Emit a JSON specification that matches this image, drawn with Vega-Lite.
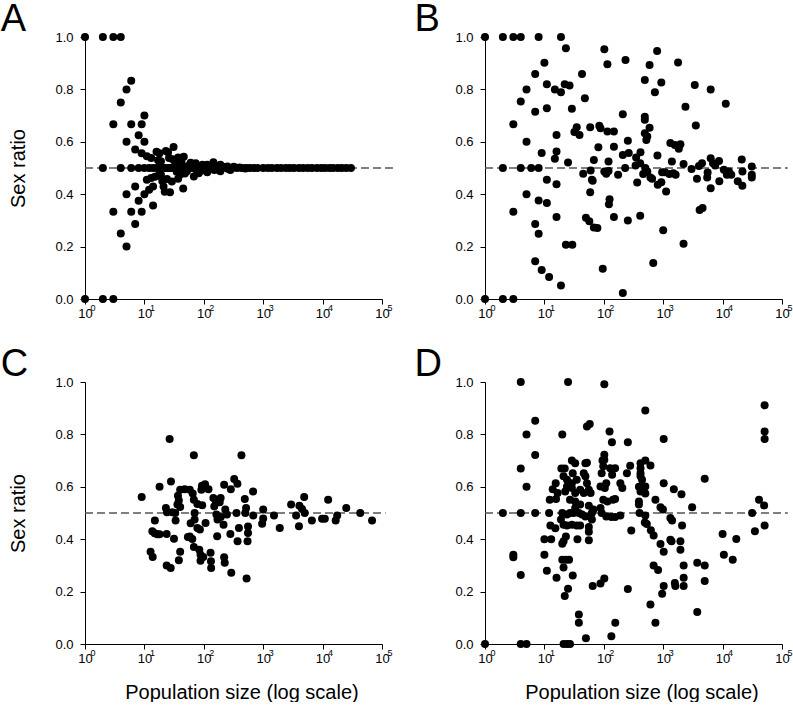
{
  "$schema": "https://vega.github.io/schema/vega-lite/v6.json",
  "padding": {"left": 0, "top": 0, "right": 0, "bottom": 0},
  "background": "white",
  "config": {
    "view": {"stroke": null},
    "font": "Liberation Sans",
    "axis": {
      "domainColor": "black", "tickColor": "black", "labelColor": "black", "titleColor": "black",
      "grid": false, "labelFont": "Liberation Sans", "titleFont": "Liberation Sans",
      "labelFontSize": 13, "titleFontSize": 20, "titleFontWeight": "normal",
      "tickSize": 5, "domainWidth": 1, "tickWidth": 1, "labelOverlap": false, "labelFlush": false, "labelBound": false
    },
    "title": {"font": "Liberation Sans", "fontSize": 38, "fontWeight": "normal", "color": "black", "anchor": "start", "frame": "group", "offset": -7.5}
  },
  "datasets": {
    "SUP": [{"n":1,"s":"0"},{"n":10,"s":"1"},{"n":100,"s":"2"},{"n":1000,"s":"3"},{"n":10000,"s":"4"},{"n":100000,"s":"5"}],
    "A": [
      {"n":1,"r":1},{"n":2,"r":1},{"n":3,"r":1},{"n":4,"r":1},{"n":1,"r":0},{"n":2,"r":0},{"n":3,"r":0},
      {"n":6,"r":0.833},{"n":5,"r":0.8},{"n":4,"r":0.75},{"n":3,"r":0.667},{"n":6,"r":0.667},{"n":9,"r":0.667},{"n":10,"r":0.7},{"n":8,"r":0.625},{"n":5,"r":0.6},{"n":10,"r":0.6},{"n":7,"r":0.571},{"n":9,"r":0.556},{"n":11,"r":0.545},{"n":13,"r":0.538},{"n":16,"r":0.5625},{"n":18,"r":0.556},{"n":23,"r":0.565},{"n":25,"r":0.56},{"n":31,"r":0.58},{"n":37,"r":0.54},{"n":46,"r":0.543},{"n":40,"r":0.525},{"n":60,"r":0.52},{"n":73,"r":0.518},{"n":95,"r":0.512},{"n":145,"r":0.522},{"n":114,"r":0.512},{"n":190,"r":0.512},{"n":250,"r":0.506},{"n":320,"r":0.505},
      {"n":7,"r":0.429},{"n":11,"r":0.455},{"n":13,"r":0.462},{"n":15,"r":0.467},{"n":10,"r":0.4},{"n":12,"r":0.417},{"n":14,"r":0.429},{"n":14,"r":0.357},{"n":21,"r":0.429},{"n":22,"r":0.409},{"n":27,"r":0.407},{"n":29,"r":0.448},{"n":24,"r":0.458},{"n":37,"r":0.459},{"n":45,"r":0.422},{"n":40,"r":0.475},{"n":68,"r":0.468},{"n":52,"r":0.488},{"n":82,"r":0.48},{"n":114,"r":0.484},{"n":190,"r":0.488},{"n":150,"r":0.492},{"n":280,"r":0.492},
      {"n":5,"r":0.4},{"n":8,"r":0.375},{"n":3,"r":0.333},{"n":6,"r":0.333},{"n":9,"r":0.333},{"n":7,"r":0.286},{"n":4,"r":0.25},{"n":5,"r":0.2},
      {"n":17,"r":0.53},{"n":19,"r":0.526},{"n":20,"r":0.45},{"n":26,"r":0.538},{"n":30,"r":0.533},{"n":33,"r":0.515},{"n":35,"r":0.486},{"n":42,"r":0.524},{"n":48,"r":0.479},{"n":55,"r":0.509},{"n":62,"r":0.516},{"n":75,"r":0.493},{"n":88,"r":0.489},{"n":105,"r":0.505},{"n":130,"r":0.508},{"n":170,"r":0.494},{"n":210,"r":0.505},{"n":260,"r":0.496},{"n":400,"r":0.502},{"n":500,"r":0.498},{"n":17,"r":0.47},{"n":19,"r":0.474},
      {"n":2,"r":0.5},{"n":4,"r":0.5},{"n":6,"r":0.5},{"n":8,"r":0.5},{"n":10,"r":0.5},{"n":12,"r":0.5},{"n":14,"r":0.5},{"n":16,"r":0.5},{"n":18,"r":0.5},{"n":20,"r":0.5},{"n":22,"r":0.5},{"n":24,"r":0.5},{"n":26,"r":0.5},{"n":28,"r":0.5},{"n":30,"r":0.5},{"n":32,"r":0.5},{"n":36,"r":0.5},{"n":40,"r":0.5},{"n":44,"r":0.5},{"n":50,"r":0.5},{"n":56,"r":0.5},{"n":64,"r":0.5},{"n":70,"r":0.5},{"n":80,"r":0.5},{"n":90,"r":0.5},{"n":100,"r":0.5},{"n":120,"r":0.5},{"n":140,"r":0.5},{"n":160,"r":0.5},{"n":200,"r":0.5},{"n":240,"r":0.5},{"n":300,"r":0.5},{"n":360,"r":0.5},{"n":440,"r":0.5},{"n":520,"r":0.5},{"n":600,"r":0.5},{"n":700,"r":0.5},{"n":800,"r":0.5},{"n":1000,"r":0.5},{"n":1200,"r":0.5},{"n":1400,"r":0.5},{"n":1700,"r":0.5},{"n":2000,"r":0.5},{"n":2400,"r":0.5},{"n":2800,"r":0.5},{"n":3300,"r":0.5},{"n":4000,"r":0.5},{"n":4700,"r":0.5},{"n":5600,"r":0.5},{"n":6600,"r":0.5},{"n":8000,"r":0.5},{"n":9500,"r":0.5},{"n":11000,"r":0.5},{"n":13000,"r":0.5},{"n":15000,"r":0.5},{"n":18000,"r":0.5},{"n":21000,"r":0.5},{"n":25000,"r":0.5},{"n":30000,"r":0.5}
    ],
    "B": [
      {"n":1,"r":1},{"n":2,"r":1},{"n":3,"r":1},{"n":4,"r":1},{"n":8,"r":1},{"n":19,"r":1},
      {"n":23,"r":0.957},{"n":102,"r":0.953},{"n":115,"r":0.896},{"n":10,"r":0.902},{"n":7,"r":0.859},{"n":43,"r":0.859},{"n":5,"r":0.8},{"n":11,"r":0.82},{"n":15,"r":0.8},{"n":19,"r":0.789},{"n":22,"r":0.82},{"n":26.5,"r":0.815},{"n":48,"r":0.766},{"n":4,"r":0.754},{"n":7,"r":0.715},{"n":11,"r":0.728},{"n":29,"r":0.726},{"n":209,"r":0.705},{"n":3,"r":0.667},{"n":35,"r":0.656},{"n":32,"r":0.637},{"n":39,"r":0.626},{"n":59,"r":0.656},{"n":84,"r":0.661},{"n":88,"r":0.652},{"n":115,"r":0.639},{"n":148,"r":0.639},{"n":16,"r":0.626},{"n":5,"r":0.6},{"n":254,"r":0.604},{"n":81,"r":0.579},{"n":148,"r":0.581},{"n":209,"r":0.55},{"n":263,"r":0.557},{"n":9,"r":0.557},{"n":16,"r":0.563},{"n":15,"r":0.535},{"n":25,"r":0.521},{"n":68,"r":0.531},{"n":120,"r":0.525},{"n":2,"r":0.5},{"n":4,"r":0.5},{"n":6,"r":0.5},{"n":8,"r":0.5},{"n":45,"r":0.478},{"n":60,"r":0.49},{"n":63,"r":0.455},{"n":65,"r":0.451},{"n":102,"r":0.487},{"n":110,"r":0.478},{"n":120,"r":0.489},{"n":174,"r":0.474},{"n":229,"r":0.5},{"n":11,"r":0.455},{"n":16,"r":0.438},{"n":59,"r":0.407},{"n":5,"r":0.4},{"n":8,"r":0.376},{"n":11,"r":0.366},{"n":125,"r":0.381},{"n":122,"r":0.362},{"n":3,"r":0.333},{"n":16,"r":0.313},{"n":148,"r":0.313},{"n":50,"r":0.31},{"n":57,"r":0.297},{"n":68,"r":0.273},{"n":78,"r":0.271},{"n":254,"r":0.3},{"n":7,"r":0.286},{"n":8,"r":0.249},{"n":23,"r":0.207},{"n":29.5,"r":0.207},{"n":7,"r":0.144},{"n":9,"r":0.111},{"n":12,"r":0.084},{"n":19,"r":0.052},{"n":96,"r":0.115},{"n":209,"r":0.023},{"n":1,"r":0},{"n":2,"r":0},{"n":3,"r":0},
      {"n":232,"r":0.912},{"n":790,"r":0.947},{"n":590,"r":0.893},{"n":1780,"r":0.903},{"n":490,"r":0.836},{"n":930,"r":0.826},{"n":725,"r":0.789},{"n":3400,"r":0.817},{"n":6300,"r":0.8},{"n":11300,"r":0.745},{"n":2370,"r":0.734},{"n":490,"r":0.696},{"n":490,"r":0.684},{"n":590,"r":0.654},{"n":490,"r":0.633},{"n":540,"r":0.62},{"n":520,"r":0.607},{"n":3540,"r":0.662},{"n":1320,"r":0.595},{"n":1570,"r":0.588},{"n":1950,"r":0.591},{"n":1830,"r":0.573},{"n":415,"r":0.56},{"n":350,"r":0.54},{"n":800,"r":0.548},{"n":410,"r":0.518},{"n":343,"r":0.51},{"n":1400,"r":0.525},{"n":2200,"r":0.515},{"n":500,"r":0.5},{"n":540,"r":0.487},{"n":610,"r":0.464},{"n":650,"r":0.459},{"n":460,"r":0.477},{"n":365,"r":0.445},{"n":810,"r":0.436},{"n":930,"r":0.446},{"n":1120,"r":0.41},{"n":960,"r":0.484},{"n":1070,"r":0.484},{"n":1270,"r":0.477},{"n":1480,"r":0.48},{"n":1620,"r":0.474},{"n":3000,"r":0.496},{"n":3700,"r":0.459},{"n":4000,"r":0.508},{"n":4500,"r":0.518},{"n":5500,"r":0.464},{"n":5600,"r":0.483},{"n":6300,"r":0.537},{"n":6300,"r":0.423},{"n":6900,"r":0.518},{"n":7500,"r":0.51},{"n":8700,"r":0.527},{"n":8800,"r":0.449},{"n":10500,"r":0.493},{"n":11800,"r":0.474},{"n":12800,"r":0.487},{"n":14000,"r":0.474},{"n":18000,"r":0.449},{"n":21000,"r":0.532},{"n":21600,"r":0.487},{"n":21500,"r":0.432},{"n":31000,"r":0.506},{"n":31000,"r":0.474},{"n":31000,"r":0.464},{"n":4600,"r":0.347},{"n":4100,"r":0.34},{"n":410,"r":0.318},{"n":1000,"r":0.262},{"n":2200,"r":0.211},{"n":680,"r":0.137}
    ],
    "C": [
      {"n":9,"r":0.561},{"n":26.6,"r":0.782},{"n":68,"r":0.72},{"n":430,"r":0.72},{"n":18,"r":0.6},{"n":28,"r":0.62},{"n":40,"r":0.589},{"n":47.6,"r":0.591},{"n":58,"r":0.589},{"n":65,"r":0.574},{"n":36.7,"r":0.566},{"n":38,"r":0.548},{"n":36,"r":0.532},{"n":40,"r":0.523},{"n":23,"r":0.519},{"n":24,"r":0.503},{"n":29.5,"r":0.503},{"n":15,"r":0.471},{"n":33.5,"r":0.471},{"n":13.6,"r":0.43},{"n":14.9,"r":0.423},{"n":16.5,"r":0.419},{"n":18,"r":0.419},{"n":23.7,"r":0.42},{"n":31.5,"r":0.402},{"n":12.7,"r":0.352},{"n":13.8,"r":0.332},{"n":23.7,"r":0.3},{"n":27.7,"r":0.29},{"n":40,"r":0.352},{"n":38,"r":0.32},{"n":54,"r":0.408},{"n":64,"r":0.401},{"n":68,"r":0.551},{"n":78,"r":0.534},{"n":70,"r":0.5},{"n":70,"r":0.475},{"n":78,"r":0.443},{"n":86,"r":0.437},{"n":107,"r":0.462},{"n":68,"r":0.37},{"n":84,"r":0.36},{"n":88,"r":0.341},{"n":98,"r":0.332},{"n":88,"r":0.318},{"n":130,"r":0.348},{"n":132,"r":0.316},{"n":133,"r":0.29},{"n":220,"r":0.331},{"n":225,"r":0.31},{"n":290,"r":0.272},{"n":525,"r":0.25},{"n":93,"r":0.604},{"n":105,"r":0.61},{"n":120,"r":0.591},{"n":91,"r":0.589},{"n":145,"r":0.557},{"n":160,"r":0.544},{"n":192,"r":0.557},{"n":185,"r":0.541},{"n":150,"r":0.525},{"n":163,"r":0.494},{"n":170,"r":0.475},{"n":193,"r":0.485},{"n":230,"r":0.513},{"n":245,"r":0.494},{"n":215,"r":0.455},{"n":168,"r":0.411},{"n":280,"r":0.42},{"n":220,"r":0.608},{"n":325,"r":0.63},{"n":368,"r":0.612},{"n":285,"r":0.591},{"n":355,"r":0.5},{"n":390,"r":0.443},{"n":370,"r":0.392},{"n":500,"r":0.5},{"n":515,"r":0.519},{"n":490,"r":0.553},{"n":555,"r":0.448},{"n":675,"r":0.582},{"n":680,"r":0.49},{"n":555,"r":0.424},{"n":545,"r":0.392},{"n":1000,"r":0.513},{"n":1000,"r":0.479},{"n":960,"r":0.459},{"n":1520,"r":0.49},{"n":1900,"r":0.443},
      {"n":2950,"r":0.532},{"n":4070,"r":0.528},{"n":4500,"r":0.515},{"n":5000,"r":0.5},{"n":3580,"r":0.49},{"n":4900,"r":0.561},{"n":4000,"r":0.449},{"n":6600,"r":0.471},{"n":9800,"r":0.478},{"n":10900,"r":0.478},{"n":12400,"r":0.551},{"n":16600,"r":0.471},{"n":17600,"r":0.49},{"n":25000,"r":0.519},{"n":43000,"r":0.5},{"n":68000,"r":0.471},
      {"n":94,"r":0.53},{"n":33,"r":0.5},{"n":60,"r":0.461},{"n":58,"r":0.41}
    ],
    "D": [
      {"n":4,"r":1},{"n":25,"r":1},{"n":102,"r":0.991},{"n":7,"r":0.852},{"n":5,"r":0.8},{"n":20,"r":0.8},{"n":52,"r":0.83},{"n":58,"r":0.84},{"n":125,"r":0.811},{"n":137,"r":0.77},{"n":254,"r":0.77},{"n":7,"r":0.721},{"n":4,"r":0.67},{"n":5,"r":0.6},{"n":2,"r":0.5},{"n":4,"r":0.5},{"n":7,"r":0.5},{"n":12,"r":0.5},{"n":10,"r":0.4},{"n":13,"r":0.4},{"n":3,"r":0.341},{"n":3,"r":0.331},{"n":10,"r":0.341},{"n":4,"r":0.263},{"n":11,"r":0.28},{"n":16,"r":0.253},{"n":22,"r":0.183},{"n":25,"r":0.211},{"n":38,"r":0.113},{"n":38,"r":0.081},{"n":50,"r":0.022},{"n":4,"r":0},{"n":5,"r":0},{"n":21,"r":0},{"n":24,"r":0},{"n":27,"r":0},{"n":1,"r":0},{"n":156,"r":0.081},{"n":134,"r":0.03},{"n":65,"r":0.221},{"n":88,"r":0.231},{"n":102,"r":0.25},{"n":254,"r":0.21},{"n":30,"r":0.261},{"n":21,"r":0.292},{"n":20,"r":0.322},{"n":23,"r":0.322},{"n":26,"r":0.322},{"n":20,"r":0.383},{"n":21,"r":0.392},{"n":23,"r":0.41},{"n":15.3,"r":0.442},{"n":12.6,"r":0.452},{"n":12.3,"r":0.551},{"n":15.7,"r":0.553},{"n":16.7,"r":0.576},{"n":13.8,"r":0.591},{"n":15.5,"r":0.614},{"n":19.3,"r":0.67},{"n":22,"r":0.67},{"n":29,"r":0.7},{"n":33,"r":0.69},{"n":49,"r":0.69},{"n":52,"r":0.692},{"n":21,"r":0.64},{"n":24,"r":0.627},{"n":30,"r":0.652},{"n":35,"r":0.627},{"n":29,"r":0.614},{"n":46,"r":0.652},{"n":49,"r":0.64},{"n":52,"r":0.614},{"n":40,"r":0.589},{"n":46,"r":0.576},{"n":56,"r":0.589},{"n":60,"r":0.576},{"n":24,"r":0.601},{"n":22.4,"r":0.582},{"n":29,"r":0.595},{"n":33,"r":0.576},{"n":27,"r":0.551},{"n":33,"r":0.544},{"n":33,"r":0.519},{"n":40,"r":0.532},{"n":56,"r":0.528},{"n":67,"r":0.513},{"n":20,"r":0.5},{"n":24,"r":0.494},{"n":27,"r":0.5},{"n":31,"r":0.5},{"n":38,"r":0.5},{"n":43,"r":0.494},{"n":49,"r":0.487},{"n":63,"r":0.5},{"n":19,"r":0.475},{"n":21,"r":0.455},{"n":24,"r":0.452},{"n":29,"r":0.455},{"n":35,"r":0.452},{"n":40,"r":0.452},{"n":56,"r":0.447},{"n":63,"r":0.475},{"n":56,"r":0.396},{"n":56,"r":0.428},{"n":88,"r":0.601},{"n":98,"r":0.551},{"n":104,"r":0.595},{"n":110,"r":0.614},{"n":92,"r":0.652},{"n":98,"r":0.678},{"n":102,"r":0.703},{"n":95,"r":0.7},{"n":102,"r":0.722},{"n":128,"r":0.671},{"n":155,"r":0.671},{"n":138,"r":0.646},{"n":190,"r":0.614},{"n":205,"r":0.595},{"n":245,"r":0.652},{"n":278,"r":0.68},{"n":88,"r":0.519},{"n":92,"r":0.5},{"n":110,"r":0.487},{"n":134,"r":0.485},{"n":155,"r":0.485},{"n":190,"r":0.49},{"n":115,"r":0.544},{"n":143,"r":0.551},{"n":155,"r":0.553},{"n":290,"r":0.433},{"n":36,"r":0.4},
      {"n":500,"r":0.891},{"n":1020,"r":0.782},{"n":500,"r":0.7},{"n":415,"r":0.69},{"n":610,"r":0.681},{"n":415,"r":0.671},{"n":415,"r":0.652},{"n":415,"r":0.64},{"n":440,"r":0.627},{"n":390,"r":0.6},{"n":455,"r":0.599},{"n":500,"r":0.601},{"n":415,"r":0.582},{"n":500,"r":0.574},{"n":390,"r":0.544},{"n":390,"r":0.532},{"n":740,"r":0.551},{"n":1020,"r":0.614},{"n":1510,"r":0.591},{"n":2030,"r":0.572},{"n":3070,"r":0.522},{"n":5000,"r":0.631},{"n":900,"r":0.522},{"n":990,"r":0.513},{"n":400,"r":0.5},{"n":500,"r":0.49},{"n":1320,"r":0.481},{"n":1410,"r":0.471},{"n":2080,"r":0.452},{"n":490,"r":0.464},{"n":530,"r":0.458},{"n":620,"r":0.434},{"n":690,"r":0.414},{"n":900,"r":0.382},{"n":1020,"r":0.352},{"n":1320,"r":0.398},{"n":1380,"r":0.392},{"n":1950,"r":0.392},{"n":1950,"r":0.36},{"n":690,"r":0.3},{"n":820,"r":0.282},{"n":2210,"r":0.3},{"n":3740,"r":0.31},{"n":5000,"r":0.3},{"n":2210,"r":0.253},{"n":2210,"r":0.221},{"n":1570,"r":0.233},{"n":1600,"r":0.221},{"n":1020,"r":0.221},{"n":960,"r":0.192},{"n":5000,"r":0.24},{"n":610,"r":0.151},{"n":740,"r":0.081},{"n":3740,"r":0.122},{"n":10000,"r":0.42},{"n":10500,"r":0.341},{"n":17000,"r":0.401},{"n":14800,"r":0.322},{"n":31400,"r":0.5},{"n":41000,"r":0.551},{"n":50000,"r":0.529},{"n":35000,"r":0.43},{"n":51000,"r":0.452},{"n":51000,"r":0.911},{"n":51000,"r":0.811},{"n":51000,"r":0.782}
    ]
  },
  "columns": 2,
  "bounds": "flush",
  "spacing": {"row": 83, "column": 103},
  "concat": [
    {
      "width": 297, "height": 262,
      "title": {"text": "A", "dx": -84.3},
      "layer": [
        {"data": {"values": [{"n": 1, "n2": 155000, "r": 0.5}]},
         "mark": {"type": "rule", "color": "#555555", "strokeWidth": 1.3, "strokeDash": [8, 4], "clip": false},
         "encoding": {"x": {"field": "n", "type": "quantitative"}, "x2": {"field": "n2"}, "y": {"field": "r", "type": "quantitative"}}},
        {"data": {"name": "A"},
         "mark": {"type": "circle", "size": 64, "color": "black", "opacity": 1, "clip": false},
         "encoding": {
           "x": {"field": "n", "type": "quantitative", "scale": {"type": "log", "domain": [1, 100000], "nice": false},
                 "axis": {"title": null, "values": [1, 10, 100, 1000, 10000, 100000], "labelExpr": "'10'", "labelDx": -3.5, "labelPadding": 3}},
           "y": {"field": "r", "type": "quantitative", "scale": {"domain": [0, 1], "nice": false, "zero": false},
                 "axis": {"title": "Sex ratio", "values": [0, 0.2, 0.4, 0.6, 0.8, 1.0], "format": ".1f", "labelPadding": 7, "titlePadding": 26}}
         }},
        {"data": {"name": "SUP"},
         "mark": {"type": "text", "align": "left", "baseline": "top", "dx": 5.5, "dy": 5, "fontSize": 9, "font": "Liberation Sans", "color": "black", "clip": false},
         "encoding": {"x": {"field": "n", "type": "quantitative"}, "y": {"datum": 0}, "text": {"field": "s"}}}
      ]
    },
    {
      "width": 297, "height": 262,
      "title": {"text": "B", "dx": -70.4},
      "layer": [
        {"data": {"values": [{"n": 1, "n2": 125000, "r": 0.5}]},
         "mark": {"type": "rule", "color": "#555555", "strokeWidth": 1.3, "strokeDash": [8, 4], "clip": false},
         "encoding": {"x": {"field": "n", "type": "quantitative"}, "x2": {"field": "n2"}, "y": {"field": "r", "type": "quantitative"}}},
        {"data": {"name": "B"},
         "mark": {"type": "circle", "size": 64, "color": "black", "opacity": 1, "clip": false},
         "encoding": {
           "x": {"field": "n", "type": "quantitative", "scale": {"type": "log", "domain": [1, 100000], "nice": false},
                 "axis": {"title": null, "values": [1, 10, 100, 1000, 10000, 100000], "labelExpr": "'10'", "labelDx": -3.5, "labelPadding": 3}},
           "y": {"field": "r", "type": "quantitative", "scale": {"domain": [0, 1], "nice": false, "zero": false},
                 "axis": {"title": null, "values": [0, 0.2, 0.4, 0.6, 0.8, 1.0], "format": ".1f", "labelPadding": 7}}
         }},
        {"data": {"name": "SUP"},
         "mark": {"type": "text", "align": "left", "baseline": "top", "dx": 5.5, "dy": 5, "fontSize": 9, "font": "Liberation Sans", "color": "black", "clip": false},
         "encoding": {"x": {"field": "n", "type": "quantitative"}, "y": {"datum": 0}, "text": {"field": "s"}}}
      ]
    },
    {
      "width": 297, "height": 262,
      "title": {"text": "C", "dx": -84.3},
      "layer": [
        {"data": {"values": [{"n": 1, "n2": 115000, "r": 0.5}]},
         "mark": {"type": "rule", "color": "#555555", "strokeWidth": 1.3, "strokeDash": [8, 4], "clip": false},
         "encoding": {"x": {"field": "n", "type": "quantitative"}, "x2": {"field": "n2"}, "y": {"field": "r", "type": "quantitative"}}},
        {"data": {"name": "C"},
         "mark": {"type": "circle", "size": 64, "color": "black", "opacity": 1, "clip": false},
         "encoding": {
           "x": {"field": "n", "type": "quantitative", "scale": {"type": "log", "domain": [1, 100000], "nice": false},
                 "axis": {"title": "Population size (log scale)", "titleX": 156.5, "values": [1, 10, 100, 1000, 10000, 100000], "labelExpr": "'10'", "labelDx": -3.5, "labelPadding": 3, "titlePadding": 17}},
           "y": {"field": "r", "type": "quantitative", "scale": {"domain": [0, 1], "nice": false, "zero": false},
                 "axis": {"title": "Sex ratio", "values": [0, 0.2, 0.4, 0.6, 0.8, 1.0], "format": ".1f", "labelPadding": 7, "titlePadding": 26}}
         }},
        {"data": {"name": "SUP"},
         "mark": {"type": "text", "align": "left", "baseline": "top", "dx": 5.5, "dy": 5, "fontSize": 9, "font": "Liberation Sans", "color": "black", "clip": false},
         "encoding": {"x": {"field": "n", "type": "quantitative"}, "y": {"datum": 0}, "text": {"field": "s"}}}
      ]
    },
    {
      "width": 297, "height": 262,
      "title": {"text": "D", "dx": -70.6},
      "layer": [
        {"data": {"values": [{"n": 1, "n2": 125000, "r": 0.5}]},
         "mark": {"type": "rule", "color": "#555555", "strokeWidth": 1.3, "strokeDash": [8, 4], "clip": false},
         "encoding": {"x": {"field": "n", "type": "quantitative"}, "x2": {"field": "n2"}, "y": {"field": "r", "type": "quantitative"}}},
        {"data": {"name": "D"},
         "mark": {"type": "circle", "size": 64, "color": "black", "opacity": 1, "clip": false},
         "encoding": {
           "x": {"field": "n", "type": "quantitative", "scale": {"type": "log", "domain": [1, 100000], "nice": false},
                 "axis": {"title": "Population size (log scale)", "titleX": 156.5, "values": [1, 10, 100, 1000, 10000, 100000], "labelExpr": "'10'", "labelDx": -3.5, "labelPadding": 3, "titlePadding": 17}},
           "y": {"field": "r", "type": "quantitative", "scale": {"domain": [0, 1], "nice": false, "zero": false},
                 "axis": {"title": null, "values": [0, 0.2, 0.4, 0.6, 0.8, 1.0], "format": ".1f", "labelPadding": 7}}
         }},
        {"data": {"name": "SUP"},
         "mark": {"type": "text", "align": "left", "baseline": "top", "dx": 5.5, "dy": 5, "fontSize": 9, "font": "Liberation Sans", "color": "black", "clip": false},
         "encoding": {"x": {"field": "n", "type": "quantitative"}, "y": {"datum": 0}, "text": {"field": "s"}}}
      ]
    }
  ]
}
